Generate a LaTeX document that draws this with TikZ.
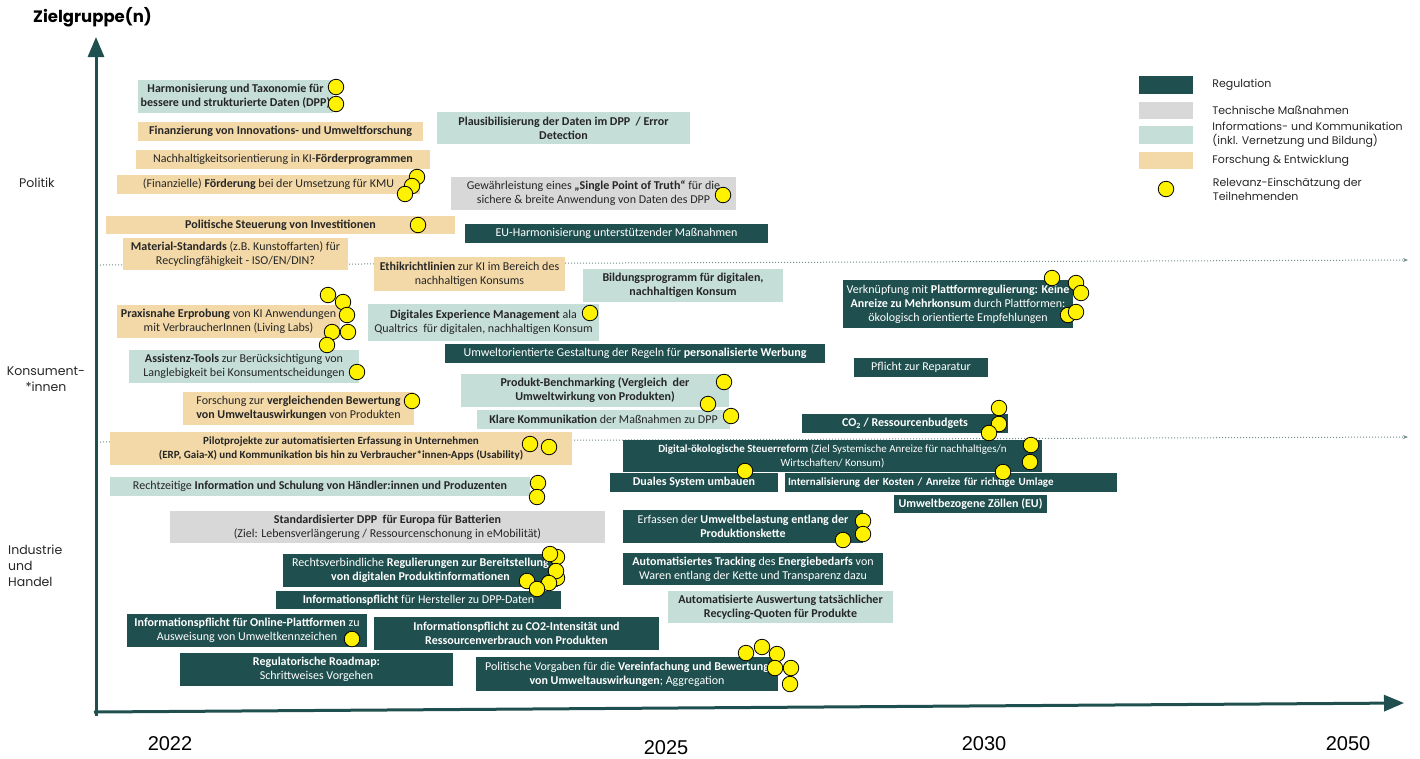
\documentclass[tikz,border=0pt]{standalone}
\usepackage{fontspec}
\setmainfont{Carlito}
\newfontfamily\labelfont{Poppins}
\newfontfamily\yearfont{Liberation Sans}
\usetikzlibrary{arrows.meta, positioning}
\definecolor{regcol}{RGB}{31,79,78}
\definecolor{techcol}{RGB}{216,216,216}
\definecolor{infocol}{RGB}{197,222,215}
\definecolor{rndcol}{RGB}{243,217,168}
\definecolor{sepcol}{RGB}{115,140,140}

\begin{document}
\begin{tikzpicture}[
        x=1pt, y=-1pt,
        box/.style={inner sep=0pt, align=center, font=\fontsize{12}{14}\selectfont},
        sz/.style 2 args={minimum width=#1pt, minimum height=#2pt},
        reg/.style={box, fill=regcol, text=white},
        tech/.style={box, fill=techcol, text=black!85},
        info/.style={box, fill=infocol, text=black!85},
        rnd/.style={box, fill=rndcol, text=black!85},
        dot/.style={circle, draw=black, line width=0.8pt, fill=yellow, minimum size=15.5pt, inner sep=0pt},
        axis/.style={draw=regcol, line width=3pt, -{Triangle[length=20pt, width=16pt]}},
        sep/.style={draw=sepcol, dotted, line width=1pt, -{Stealth[length=5pt, width=4pt]}},
        grp/.style={inner sep=0pt, text=black!85, font=\labelfont\fontsize{12.5}{16}\selectfont},
        legend/.style={inner sep=0pt, align=left, text=black!85, font=\labelfont\fontsize{11}{14}\selectfont},
        year/.style={inner sep=0pt, font=\yearfont\fontsize{20}{20}\selectfont}
    ]
    \useasboundingbox (0,0) rectangle (1420,758);

    \coordinate (sepa-l) at (100,265);
    \coordinate (sepa-r) at (1408,260);
    \coordinate (sepb-l) at (100,442);
    \coordinate (sepb-r) at (1408,437);
    \draw[sep] (sepa-l) -- (sepa-r);
    \draw[sep] (sepb-l) -- (sepb-r);

    \coordinate (origin) at (96,716);
    \coordinate (ytip) at (96,37);
    \coordinate (xstart) at (94,712);
    \coordinate (xtip) at (1404,703);
    \draw[axis] (origin) -- (ytip);
    \draw[axis] (xstart) -- (xtip);

    \node[anchor=west, inner sep=0pt, font=\labelfont\bfseries\fontsize{16.5}{18}\selectfont] (ziel) at (33,17) {Zielgruppe(n)};
    \node[grp, anchor=west] (politik) at (19,183) {Politik};
    \node[grp, align=center] (konsum) at (46,379) {Konsument-\\{}*innen};
    \node[grp, align=left, anchor=west] (industrie) at (8,566) {Industrie\\und\\Handel};

    \node[year] (y2022) at (170,744) {2022};
    \node[year] (y2025) at (666,748) {2025};
    \node[year] (y2030) at (984,744) {2030};
    \node[year] (y2050) at (1348,744) {2050};

    \node[info, sz={195}{33}] (harmon) at (235.5,96.5) {\textbf{Harmonisierung und Taxonomie für}\\\textbf{bessere und strukturierte Daten (DPP)}};
    \node[rnd, sz={285}{19}] (finanz) at (280.5,131.5) {\textbf{Finanzierung von Innovations- und Umweltforschung}};
    \node[rnd, sz={294}{19}] (nachhalt) at (283,159.5) {Nachhaltigkeitsorientierung in KI-\textbf{Förderprogrammen}};
    \node[rnd, sz={303}{19}] (foerder) at (268.5,184.5) {(Finanzielle) \textbf{Förderung} bei der Umsetzung für KMU};
    \node[rnd, sz={349}{18}] (steuer) at (280.5,225) {\textbf{Politische Steuerung von Investitionen}};
    \node[rnd, sz={225}{32}] (material) at (235.5,254) {\textbf{Material-Standards} (z.B. Kunstoffarten) für\\Recyclingfähigkeit - ISO/EN/DIN?};
    \node[info, sz={253}{32}] (plausi) at (563.5,128) {\textbf{Plausibilisierung der Daten im DPP\ \ / Error}\\\textbf{Detection}};
    \node[tech, sz={285}{33}] (spot) at (593.5,193.5) {Gewährleistung eines \textbf{„Single Point of Truth“} für die\\sichere \& breite Anwendung von Daten des DPP};
    \node[reg, sz={303}{19}] (euharm) at (616.5,233.5) {EU-Harmonisierung unterstützender Maßnahmen};
    \node[rnd, sz={191}{34}] (ethik) at (469.5,274) {\textbf{Ethikrichtlinien} zur KI im Bereich des\\nachhaltigen Konsums};
    \node[info, sz={200}{33}] (bildung) at (683,285.5) {\textbf{Bildungsprogramm für digitalen,}\\\textbf{nachhaltigen Konsum}};
    \node[rnd, sz={223}{33}] (praxis) at (228.5,321.5) {\textbf{Praxisnahe Erprobung} von KI Anwendungen\\mit VerbraucherInnen (Living Labs)};
    \node[info, sz={231}{37}] (experience) at (483.5,322.5) {\textbf{Digitales Experience Management} ala\\Qualtrics\ \ für digitalen, nachhaltigen Konsum};
    \node[reg, sz={380}{19}] (werbung) at (635,353.5) {Umweltorientierte Gestaltung der Regeln für \textbf{personalisierte Werbung}};
    \node[info, sz={230}{33}] (assist) at (244,366.5) {\textbf{Assistenz-Tools} zur Berücksichtigung von\\Langlebigkeit bei Konsumentscheidungen};
    \node[rnd, sz={231}{33}] (forschung) at (298.5,408.5) {Forschung zur \textbf{vergleichenden Bewertung}\\\textbf{von Umweltauswirkungen} von Produkten};
    \node[info, sz={268}{33}] (bench) at (595,390.5) {\textbf{Produkt-Benchmarking (Vergleich\ \ der}\\\textbf{Umweltwirkung von Produkten)}};
    \node[info, sz={253}{19}] (klar) at (603.5,419.5) {\textbf{Klare Kommunikation} der Maßnahmen zu DPP};
    \node[reg, sz={230}{48}] (plattform) at (958,304) {Verknüpfung mit \textbf{Plattformregulierung: Keine}\\\textbf{Anreize zu Mehrkonsum} durch Plattformen:\\ökologisch orientierte Empfehlungen};
    \node[reg, sz={134}{19}] (reparatur) at (921,367.5) {Pflicht zur Reparatur};
    \node[reg, sz={206}{19}] (budget) at (905,423.5) {\textbf{CO\textsubscript{2} / Ressourcenbudgets}};
    \node[rnd, sz={462}{33}, font=\fontsize{11}{13.5}\selectfont] (pilot) at (341,448.5) {\textbf{Pilotprojekte zur automatisierten Erfassung in Unternehmen}\\\textbf{(ERP, Gaia-X) und Kommunikation bis hin zu Verbraucher*innen-Apps (Usability)}};
    \node[info, sz={420}{19}] (schulung) at (320,486.5) {Rechtzeitige \textbf{Information und Schulung von Händler:innen und Produzenten}};
    \node[reg, sz={419}{32}, font=\fontsize{11}{13.5}\selectfont] (steuerreform) at (832.5,456) {\textbf{Digital-ökologische Steuerreform} (Ziel Systemische Anreize für nachhaltiges/n\\Wirtschaften/ Konsum)};
    \node[reg, sz={168}{19}] (dual) at (694,482.5) {\textbf{Duales System umbauen}};
    \node[reg, sz={332}{19}, text width=326pt, align=left, font=\fontsize{11}{13}\selectfont] (kosten) at (951,482.5) {\textbf{Internalisierung der Kosten / Anreize für richtige Umlage}};
    \node[reg, sz={153}{18}] (zoelle) at (970.5,504) {\textbf{Umweltbezogene Zöllen (EU)}};
    \node[tech, sz={435}{32}] (batterie) at (387.5,527) {\textbf{Standardisierter DPP\ \ für Europa für Batterien}\\(Ziel: Lebensverlängerung / Ressourcenschonung in eMobilität)};
    \node[reg, sz={240}{33}] (erfassen) at (743,526.5) {Erfassen der \textbf{Umweltbelastung entlang der}\\\textbf{Produktionskette}};
    \node[reg, sz={275}{33}] (rechtsverb) at (420.5,570.5) {Rechtsverbindliche \textbf{Regulierungen zur Bereitstellung}\\\textbf{von digitalen Produktinformationen}};
    \node[reg, sz={260}{32}] (tracking) at (753,569) {\textbf{Automatisiertes Tracking} des \textbf{Energiebedarfs} von\\Waren entlang der Kette und Transparenz dazu};
    \node[reg, sz={285}{18}] (hersteller) at (418.5,600) {\textbf{Informationspflicht} für Hersteller zu DPP-Daten};
    \node[info, sz={225}{32}] (recycling) at (780.5,607) {\textbf{Automatisierte Auswertung tatsächlicher}\\\textbf{Recycling-Quoten für Produkte}};
    \node[reg, sz={240}{33}] (online) at (247,630.5) {\textbf{Informationspflicht für Online-Plattformen} zu\\Ausweisung von Umweltkennzeichen};
    \node[reg, sz={285}{33}] (cointens) at (516.5,633.5) {\textbf{Informationspflicht zu CO2-Intensität und}\\\textbf{Ressourcenverbrauch von Produkten}};
    \node[reg, sz={273}{33}] (roadmap) at (316.5,669.5) {\textbf{Regulatorische Roadmap:}\\Schrittweises Vorgehen};
    \node[reg, sz={302}{34}] (vorgaben) at (627,674) {Politische Vorgaben für die \textbf{Vereinfachung und Bewertung}\\\textbf{von Umweltauswirkungen}; Aggregation};

    \foreach \px/\py [count=\i] in {336/87, 336/104, 417/177, 412/186, 405/194, 418/225, 723/195,
            328/295, 343/302, 347/315, 332/332, 348/332, 327/345, 357/372, 412/401, 590/313,
            724/382, 708/404, 731/416, 1052/278, 1076/283, 1081/293, 1068/315, 1076/312,
            999/408, 999/424, 989/433, 530/444, 549/447, 538/483, 537/497,
            1031/445, 1030/462, 1003/472, 745/471, 863/521, 863/534, 843/540,
            557/557, 550/554, 557/578, 556/571, 549/583, 527/581, 537/589, 352/639,
            746/653, 762/647, 777/654, 775/668, 791/668, 790/684}
        \node[dot] (dot\i) at (\px,\py) {};

    \node[reg, sz={54}{18}] (legreg) at (1166,85) {};
    \node[tech, sz={54}{17}] (legtech) at (1166,110.5) {};
    \node[info, sz={54}{18}] (leginfo) at (1166,135) {};
    \node[rnd, sz={54}{17}] (legrnd) at (1166,160.5) {};
    \node[dot] (legdot) at (1166,189) {};
    \node[legend, right=19pt of legreg] (txtreg) {Regulation};
    \node[legend, right=19pt of legtech] (txttech) {Technische Maßnahmen};
    \node[legend, right=19pt of leginfo] (txtinfo) {Informations- und Kommunikation\\(inkl. Vernetzung und Bildung)};
    \node[legend, right=19pt of legrnd] (txtrnd) {Forschung \& Entwicklung};
    \node[legend, right=38.5pt of legdot] (txtdot) {Relevanz-Einschätzung der\\Teilnehmenden};
\end{tikzpicture}
\end{document}
